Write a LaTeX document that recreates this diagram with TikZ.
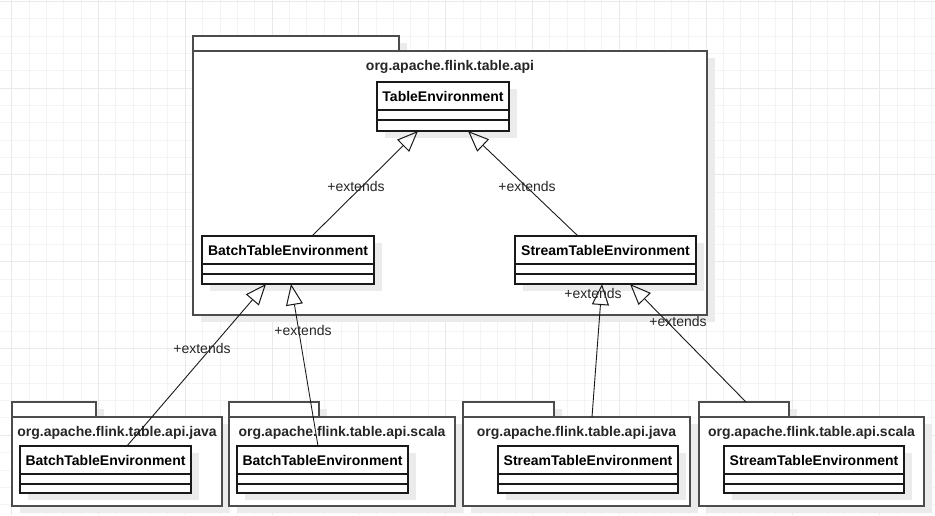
\documentclass[tikz,border=0pt]{standalone}
\usepackage{fontspec}
\setmainfont{Liberation Sans}
\usetikzlibrary{arrows.meta,fit}
\definecolor{gridminor}{HTML}{F4F4F4}
\definecolor{gridmajor}{HTML}{E9E9E9}
\definecolor{shadowc}{HTML}{EBEBEB}
\tikzset{
  classbox/.style={draw=black!90, line width=1.1pt, fill=white, inner sep=0pt, outer sep=0pt},
  classline/.style={draw=black!90, line width=1.1pt},
  pkgbox/.style={draw=black!70, line width=1.3pt, fill=white, inner sep=0pt, outer sep=0pt},
  classname/.style={font=\fontsize{14}{16}\selectfont\bfseries, text=black, inner sep=0pt},
  pkgtitle/.style={font=\fontsize{14}{16}\selectfont\bfseries, text=black!85, inner sep=0pt},
  lbl/.style={font=\fontsize{14}{16}\selectfont, text=black!85, inner sep=0pt},
  gen/.style={draw=black!90, line width=0.9pt, -{Triangle[open, length=21pt, width=17pt, line width=1pt]}},
  gminor/.style={draw=gridminor, line width=1pt},
  gmajor/.style={draw=gridmajor, line width=1pt},
}
% name, x1, y1, x2, y2, text
\newcommand\umlclass[6]{%
  \fill[shadowc] (#2+8,#3+7) rectangle (#4+8,#5+7);
  \coordinate (#1-nw) at (#2,#3);
  \coordinate (#1-se) at (#4,#5);
  \node[classbox, fit=(#1-nw)(#1-se)] (#1) {};
  \draw[classline] (#2,#3+28) -- (#4,#3+28);
  \draw[classline] (#2,#3+38) -- (#4,#3+38);
  \node[classname] (#1-name) at ({(#2+#4)/2},#3+14.5) {#6};
}
% name, x1, tabtop, tabright, bodytop, x2, bottom, title
\newcommand\umlpkg[8]{%
  \fill[shadowc] (#2+8,#3+7) rectangle (#4+8,#5);
  \fill[shadowc] (#2+8,#5+7) rectangle (#6+8,#7+7);
  \coordinate (#1-tnw) at (#2,#3);
  \coordinate (#1-tse) at (#4,#5);
  \node[pkgbox, fit=(#1-tnw)(#1-tse)] (#1-tab) {};
  \coordinate (#1-nw) at (#2,#5);
  \coordinate (#1-se) at (#6,#7);
  \node[pkgbox, fit=(#1-nw)(#1-se)] (#1) {};
  \node[pkgtitle] (#1-title) at ({(#2+#6)/2},#5+15.5) {#8};
}
\begin{document}
\begin{tikzpicture}[x=1pt,y=-1pt]
\useasboundingbox (0,0) rectangle (935,515);
\fill[white] (0,0) rectangle (935,515);
% grid
\foreach \i in {0,...,54} {
  \draw[gminor] ({11.7+17.36*(\i-1)},0) -- ++(0,515);
}
\foreach \i in {0,...,30} {
  \draw[gminor] (0,{1.3+17.36*(\i-1)}) -- ++(935,0);
}
\foreach \i in {0,...,11} {
  \draw[gmajor] ({11.7+86.8*(\i-1)},0) -- ++(0,515);
}
\foreach \i in {0,...,6} {
  \draw[gmajor] (0,{1.3+86.8*(\i-1)}) -- ++(935,0);
}
% main package
\umlpkg{api}{193}{36}{399}{51}{707}{315}{org.apache.flink.table.api}
\umlclass{te}{377}{82}{509}{131}{TableEnvironment}
\umlclass{bte}{202}{236}{374}{284}{BatchTableEnvironment}
\umlclass{ste}{515}{236}{696}{284}{StreamTableEnvironment}
% bottom packages
\umlpkg{pbj}{12}{402}{96}{417}{222}{506}{org.apache.flink.table.api.java}
\umlclass{jb}{20}{446}{191}{493}{BatchTableEnvironment}
\umlpkg{pbs}{229}{402}{319}{417}{455}{506}{org.apache.flink.table.api.scala}
\umlclass{sb}{237}{446}{408}{493}{BatchTableEnvironment}
\umlpkg{psj}{463}{402}{554}{417}{690}{506}{org.apache.flink.table.api.java}
\umlclass{js}{498}{446}{678}{493}{StreamTableEnvironment}
\umlpkg{pss}{699}{402}{789}{417}{924}{506}{org.apache.flink.table.api.scala}
\umlclass{ss}{724}{446}{904}{493}{StreamTableEnvironment}
% generalizations
\draw[gen] ([xshift=110pt]bte.north west) -- ([xshift=41pt]te.south west);
\draw[gen] ([xshift=63pt]ste.north west) -- ([xshift=91pt]te.south west);
\draw[gen] ([xshift=107pt]jb.north west) -- ([xshift=64pt]bte.south west);
\draw[gen] ([xshift=81pt]sb.north west) -- ([xshift=89pt]bte.south west);
\draw[gen] ([xshift=129pt]psj.north west) -- ([xshift=87pt]ste.south west);
\draw[gen] ([xshift=47pt]pss-tab.north west) -- ([xshift=115pt]ste.south west);
% labels
\node[lbl] (l1) at (356,186) {+extends};
\node[lbl] (l2) at (527,186) {+extends};
\node[lbl] (l3) at (202,348) {+extends};
\node[lbl] (l4) at (303,330) {+extends};
\node[lbl] (l5) at (593,293) {+extends};
\node[lbl] (l6) at (678,321) {+extends};
\end{tikzpicture}
\end{document}
